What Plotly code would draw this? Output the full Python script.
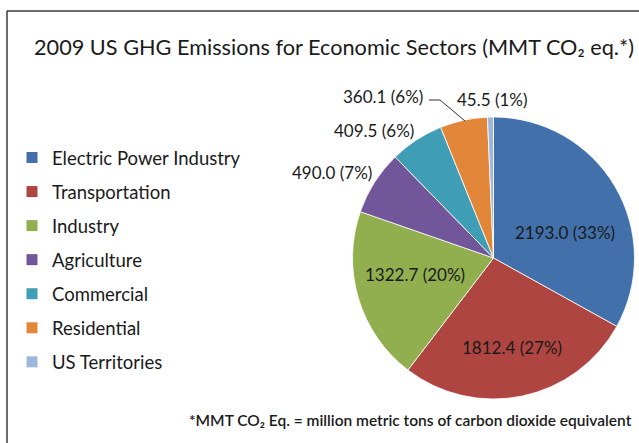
import plotly.graph_objects as go

W, H = 639, 443

sectors = ["Electric Power Industry", "Transportation", "Industry", "Agriculture",
           "Commercial", "Residential", "US Territories"]
values = [2193.0, 1812.4, 1322.7, 490.0, 409.5, 360.1, 45.5]
pct_labels = [33, 27, 20, 7, 6, 6, 1]
colors = ["#4170AA", "#AF4541", "#91AF4E", "#72569A", "#3F9EB6", "#E2873A", "#9DB6DB"]

FONT = "Lato"
TXT = "#1a1a1a"

fig = go.Figure()

fig.add_trace(go.Pie(
    labels=sectors, values=values, customdata=pct_labels,
    sort=False, direction="clockwise", rotation=0,
    marker=dict(colors=colors, line=dict(color="white", width=0.8)),
    textinfo="none",
    domain=dict(x=[352 / W, 635 / W], y=[1 - 399 / H, 1 - 117 / H]),
    showlegend=False, hoverinfo="label+value",
))

for name, col in zip(sectors, colors):
    fig.add_trace(go.Scatter(
        x=[None], y=[None], mode="markers", name=name, legendgroup=name,
        marker=dict(symbol="square", size=11, color=col),
    ))

def px(x, y):
    return x / W, 1 - y / H

annotations = []
# slice labels (positions are layout only; text from data)
label_pos = [(565, 232), (512, 347), (415, 274), (332, 172), (374, 130), (383, 97), (492, 100)]
for i, (x, y) in enumerate(label_pos):
    ax, ay = px(x, y)
    annotations.append(dict(
        x=ax, y=ay, xref="paper", yref="paper", showarrow=False,
        text=f"{values[i]:.1f} ({pct_labels[i]}%)",
        font=dict(family=FONT, size=17, color=TXT), xanchor="center", yanchor="middle"))

tx, ty = px(334, 47)
annotations.append(dict(
    x=tx, y=ty, xref="paper", yref="paper", showarrow=False,
    text="2009 US GHG Emissions for Economic Sectors (MMT CO₂ eq.*)",
    font=dict(family=FONT, size=21.7, color=TXT), xanchor="center", yanchor="middle"))

fx, fy = px(634, 420)
annotations.append(dict(
    x=fx, y=fy, xref="paper", yref="paper", showarrow=False,
    text="*MMT CO₂ Eq. = million metric tons of carbon dioxide equivalent",
    font=dict(family=FONT, size=15.5, color=TXT, weight=600), xanchor="right", yanchor="middle"))

def pt(x, y):
    a, b = px(x, y)
    return f"{a:.5f},{b:.5f}"

shapes = [
    dict(type="line", xref="paper", yref="paper", x0=7 / W, x1=1, y0=1 - 11 / H, y1=1 - 11 / H,
         line=dict(color="#3a3a3a", width=1.5)),
    dict(type="line", xref="paper", yref="paper", x0=7 / W, x1=7 / W, y0=0, y1=1 - 11 / H,
         line=dict(color="#3a3a3a", width=1.5)),
    dict(type="path", xref="paper", yref="paper",
         path=f"M {pt(429, 100)} L {pt(440, 100)} L {pt(465, 121)}",
         line=dict(color="#333333", width=1)),
]

fig.update_layout(
    width=W, height=H,
    margin=dict(l=0, r=0, t=0, b=0),
    paper_bgcolor="white", plot_bgcolor="white",
    xaxis=dict(visible=False), yaxis=dict(visible=False),
    legend=dict(x=12 / W, y=1 - 139 / H, xanchor="left", yanchor="top",
                font=dict(family=FONT, size=18.5, color=TXT),
                tracegroupgap=7, itemsizing="trace", bgcolor="rgba(0,0,0,0)"),
    annotations=annotations, shapes=shapes,
    font=dict(family=FONT),
)

fig.write_html(
    "out.html",
    config={"displayModeBar": False},
    post_script="document.body.style.margin='0';document.body.style.padding='0';"
                "document.documentElement.style.overflow='hidden';",
)
